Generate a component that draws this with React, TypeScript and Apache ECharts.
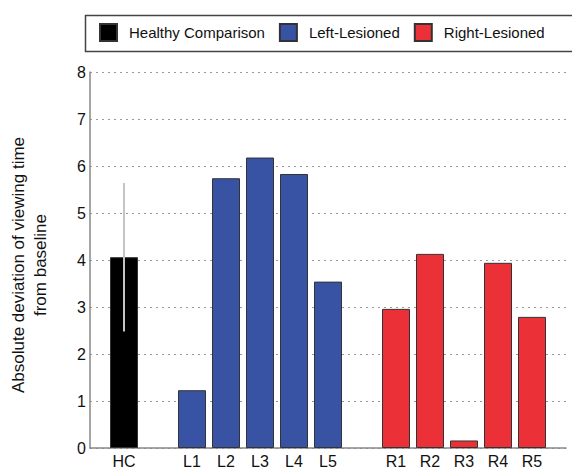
import React, { useEffect, useRef } from "react";
import * as echarts from "echarts";

const hcLabels = ["HC"];
const hcValues = [4.06];
const hcErrors = [1.58];
const leftLabels = ["L1", "L2", "L3", "L4", "L5"];
const leftValues = [1.23, 5.74, 6.18, 5.83, 3.54];
const rightLabels = ["R1", "R2", "R3", "R4", "R5"];
const rightValues = [2.96, 4.13, 0.16, 3.94, 2.79];
const seriesNames = ["Healthy Comparison", "Left-Lesioned", "Right-Lesioned"];
const yMin = 0;
const yMax = 8;
const yInterval = 1;

const FONT = "'Liberation Sans', Arial, Helvetica, sans-serif";

export default function App() {
  const ref = useRef<HTMLDivElement>(null);
  useEffect(() => {
    if (!ref.current) return;
    const chart = echarts.init(ref.current, null, { renderer: "svg" });

    const categories = [
      "gap0",
      ...hcLabels,
      "gap1",
      ...leftLabels,
      "gap2",
      ...rightLabels,
      "gap3",
    ];
    const build = (labels: string[], values: number[]) =>
      categories.map((c) => {
        const i = labels.indexOf(c);
        return i >= 0 ? values[i] : "-";
      });

    const errData = hcLabels.map((l, i) => [
      categories.indexOf(l),
      hcValues[i] - hcErrors[i],
      hcValues[i] + hcErrors[i],
    ]);

    const barBase = {
      type: "bar",
      barWidth: 28,
      barGap: "-100%",
      itemStyle: { borderColor: "#333", borderWidth: 1 },
    };

    chart.setOption({
      animation: false,
      textStyle: { fontFamily: FONT },
      grid: {
        left: 90,
        right: 6,
        top: 72,
        bottom: 21,
        containLabel: false,
        outerBoundsMode: "none",
      },
      graphic: [
        {
          type: "rect",
          left: 83,
          top: 13,
          shape: { width: 488, height: 36 },
          style: { fill: "none", stroke: "#444", lineWidth: 1.5 },
          silent: true,
        },
      ],
      legend: {
        left: 99,
        top: 23,
        width: 470,
        orient: "horizontal",
        icon: "rect",
        itemWidth: 17,
        itemHeight: 17,
        itemGap: 14,
        padding: 0,
        borderWidth: 0,
        textStyle: {
          fontSize: 15,
          color: "#111",
          fontFamily: FONT,
          padding: [0, 0, 0, 7],
        },
        data: seriesNames,
      },
      xAxis: {
        type: "category",
        data: categories,
        boundaryGap: false,
        axisLine: { lineStyle: { color: "#888", width: 1.5 } },
        axisTick: { show: false },
        axisLabel: {
          interval: 0,
          fontSize: 16,
          color: "#111",
          margin: 5,
          formatter: (v: string) => (v.startsWith("gap") ? "" : v),
        },
        splitLine: { show: false },
      },
      yAxis: {
        type: "value",
        min: yMin,
        max: yMax,
        interval: yInterval,
        name: "Absolute deviation of viewing time\nfrom baseline",
        nameLocation: "middle",
        nameGap: 39,
        nameRotate: 90,
        nameTextStyle: {
          fontSize: 17,
          lineHeight: 22,
          color: "#111",
          fontFamily: FONT,
          padding: [0, 0, 0, -10],
        },
        axisLine: { show: true, lineStyle: { color: "#888", width: 1.5 } },
        axisTick: { show: false },
        axisLabel: { fontSize: 16, color: "#111", margin: 4 },
        splitLine: {
          show: true,
          lineStyle: { type: [2, 4], color: "#999", width: 1 },
        },
      },
      series: [
        {
          ...barBase,
          name: seriesNames[0],
          data: build(hcLabels, hcValues),
          itemStyle: { ...barBase.itemStyle, color: "#000000" },
        },
        {
          ...barBase,
          name: seriesNames[1],
          data: build(leftLabels, leftValues),
          itemStyle: { ...barBase.itemStyle, color: "#3853A4" },
        },
        {
          ...barBase,
          name: seriesNames[2],
          data: build(rightLabels, rightValues),
          itemStyle: { ...barBase.itemStyle, color: "#EC3038" },
        },
        {
          type: "custom",
          name: "error",
          z: 10,
          data: errData,
          renderItem: (params: any, api: any) => {
            const x = api.value(0);
            const lo = api.coord([x, api.value(1)]);
            const hi = api.coord([x, api.value(2)]);
            return {
              type: "line",
              shape: { x1: lo[0], y1: lo[1], x2: hi[0], y2: hi[1] },
              style: { stroke: "#c4c4c4", lineWidth: 2 },
            };
          },
        },
      ],
    });
    return () => chart.dispose();
  }, []);
  return (
    <div
      ref={ref}
      style={{ position: "absolute", left: 0, top: 0, width: 572, height: 469 }}
    />
  );
}
